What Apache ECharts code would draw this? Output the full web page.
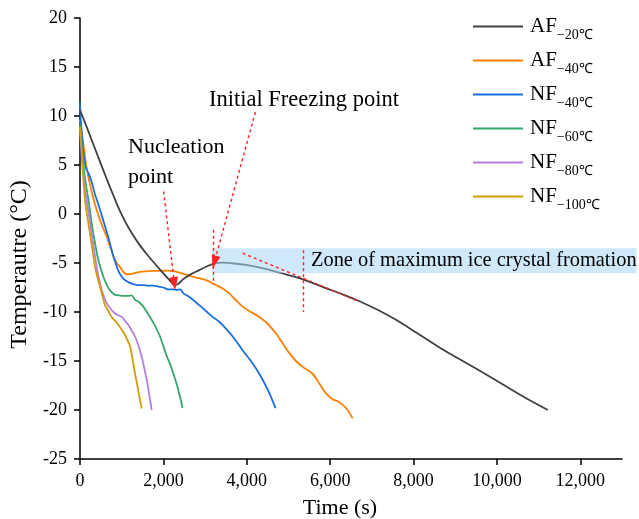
<!DOCTYPE html>
<html lang="en">
<head>
    <meta charset="UTF-8">
    <title>Temperature curves</title>
    <script src="https://cdn.jsdelivr.net/npm/echarts/dist/echarts.min.js"></script>
    <style>
        body { margin: 0; padding: 0; background: #fff; }
        #chart { width: 639px; height: 519px; }
    </style>
</head>
<body>
<div id="chart"></div>
<script>
    // series data: [time (s), temperature (°C)]
    const af20 = [[0,10.6],[150,9.0],[303,7.3],[470,5.45],[624,3.75],[790,2.0],[943,0.45],[1100,-0.9],[1263,-2.1],[1420,-3.1],[1584,-4.0],[1750,-4.85],[1903,-5.6],[2080,-6.45],[2200,-7.0],[2263,-7.25],[2350,-7.15],[2463,-6.7],[2580,-6.35],[2703,-6.05],[2850,-5.75],[3024,-5.38],[3223,-5.03],[3420,-4.97],[3700,-5.05],[3984,-5.2],[4350,-5.5],[4704,-5.9],[5050,-6.3],[5343,-6.67],[5650,-7.15],[5904,-7.58],[6300,-8.2],[6703,-8.9],[7100,-9.7],[7600,-10.85],[8064,-12.1],[8650,-13.7],[9264,-15.2],[9750,-16.4],[10224,-17.6],[10700,-18.8],[11222,-20.0]];
    const af40 = [[0,9.6],[60,7.8],[160,4.7],[280,2.3],[400,0.4],[480,-0.6],[560,-1.5],[640,-2.3],[720,-3.3],[800,-4.3],[880,-5.0],[960,-5.4],[1040,-5.9],[1120,-6.15],[1200,-6.15],[1280,-6.05],[1440,-5.9],[1600,-5.85],[1760,-5.8],[1920,-5.8],[2080,-5.78],[2200,-5.8],[2320,-5.9],[2480,-6.1],[2700,-6.4],[2860,-6.55],[3020,-6.75],[3260,-7.25],[3420,-7.6],[3580,-8.1],[3740,-8.8],[3900,-9.45],[4100,-10.0],[4300,-10.5],[4500,-11.2],[4700,-12.2],[4860,-13.2],[5020,-14.2],[5180,-15.0],[5340,-15.6],[5580,-16.3],[5740,-17.3],[5900,-18.3],[6060,-18.9],[6220,-19.2],[6380,-19.8],[6540,-20.85]];
    const nf40 = [[0,11.4],[15,9.8],[80,6.4],[140,4.7],[200,4.2],[280,3.3],[360,2.0],[440,1.0],[560,-0.7],[680,-2.4],[800,-4.3],[920,-5.8],[1040,-6.6],[1160,-6.95],[1240,-7.1],[1400,-7.25],[1520,-7.25],[1640,-7.3],[1760,-7.3],[1880,-7.4],[2000,-7.5],[2120,-7.7],[2240,-7.7],[2320,-7.75],[2400,-7.7],[2480,-8.1],[2600,-8.4],[2860,-9.3],[3020,-9.9],[3180,-10.5],[3340,-11.0],[3500,-11.7],[3700,-12.7],[3900,-13.9],[4100,-15.0],[4300,-16.3],[4500,-17.9],[4690,-19.8]];
    const nf60 = [[0,9.1],[60,6.0],[120,3.6],[200,1.5],[280,-0.9],[320,-2.0],[440,-4.7],[560,-6.4],[640,-7.2],[720,-7.8],[840,-8.25],[940,-8.3],[1040,-8.35],[1140,-8.35],[1240,-8.3],[1320,-8.75],[1420,-9.0],[1520,-9.45],[1620,-10.1],[1720,-10.8],[1820,-11.6],[1920,-12.5],[2000,-13.5],[2080,-14.5],[2160,-15.3],[2240,-16.3],[2300,-17.1],[2360,-18.0],[2420,-19.0],[2460,-19.8]];
    const nf80 = [[0,8.9],[40,6.0],[80,3.8],[120,2.4],[160,1.4],[220,-0.3],[280,-2.0],[340,-3.7],[400,-5.4],[460,-6.7],[520,-7.75],[580,-8.5],[640,-9.1],[720,-9.6],[800,-10.0],[900,-10.3],[1000,-10.5],[1080,-10.9],[1160,-11.3],[1240,-11.9],[1320,-12.5],[1400,-13.4],[1480,-14.6],[1540,-15.7],[1600,-16.9],[1660,-18.4],[1720,-20.0]];
    const nf100 = [[0,8.9],[40,6.5],[80,3.8],[120,1.4],[180,-0.4],[240,-2.0],[300,-3.7],[360,-5.4],[420,-6.5],[480,-7.4],[540,-8.4],[600,-9.3],[680,-9.9],[760,-10.5],[840,-10.9],[920,-11.3],[1000,-11.8],[1080,-12.35],[1140,-12.9],[1200,-13.5],[1260,-14.8],[1320,-16.3],[1380,-17.6],[1440,-19.0],[1480,-19.85]];

    const seriesBase = ["AF", "AF", "NF", "NF", "NF", "NF"];
    const seriesSub = ["−20℃", "−40℃", "−40℃", "−60℃", "−80℃", "−100℃"];
    const seriesData = [af20, af40, nf40, nf60, nf80, nf100];
    const seriesColors = ["#404040", "#ff8000", "#1a6fdf", "#37a86a", "#b57ee0", "#d29c0a"];

    const xTicks = [0, 2000, 4000, 6000, 8000, 10000, 12000];

    // annotation positions (data coords)
    const nucleationArrow = [[2006, 2.3], [2263, -7.1]];
    const freezingArrow = [[4207, 10.4], [3223, -4.9]];
    const freezingMarker = [[3199, -1.6], [3199, -7.2]];
    const zoneSlope = [[3902, -4.0], [6703, -8.95]];
    const zoneMarker = [[5366, -3.7], [5366, -10.0]];
    const zoneBand = [[3168, -3.5], [13350, -6.05]];

    const serif = "Liberation Serif";
    const chart = echarts.init(document.getElementById("chart"));

    const names = seriesBase.map((b, i) => b + seriesSub[i]);

    const lineSeries = seriesData.map((d, i) => ({
        name: names[i],
        type: "line",
        data: d,
        showSymbol: false,
        symbol: "none",
        smooth: 0.3,
        lineStyle: { color: seriesColors[i], width: 1.8 },
        itemStyle: { color: seriesColors[i] },
        z: 2 + (i === 0 ? 1 : 0)
    }));

    const dashed = { color: "#ff2020", width: 1.4, type: [3, 3] };
    const seg = (p, arrow) => [
        { coord: p[0], symbol: "none" },
        { coord: p[1], symbol: arrow ? "triangle" : "none", symbolSize: [9, 13] }
    ];

    lineSeries.push({
        name: "annot",
        type: "line",
        data: [],
        z: 6,
        markLine: {
            silent: true,
            symbol: ["none", "none"],
            label: { show: false },
            lineStyle: dashed,
            itemStyle: { color: "#ff0000" },
            animation: false,
            data: [
                seg(nucleationArrow, true),
                seg(freezingArrow, true),
                seg(freezingMarker, false),
                seg(zoneSlope, false),
                seg(zoneMarker, false)
            ]
        }
    });

    chart.setOption({
        animation: false,
        backgroundColor: "#fff",
        textStyle: { fontFamily: serif },
        grid: { left: 80, right: 17, top: 18, bottom: 60, containLabel: false, outerBoundsMode: "none" },
        legend: {
            data: names,
            orient: "vertical",
            left: 473,
            top: 16,
            padding: 0,
            icon: "rect",
            itemWidth: 50,
            itemHeight: 2,
            itemGap: 7.5,
            formatter: (name) => {
                const i = names.indexOf(name);
                return "{m|" + seriesBase[i] + "}{s|" + seriesSub[i] + "}";
            },
            textStyle: {
                rich: {
                    m: { fontFamily: serif, fontSize: 21, lineHeight: 32, color: "#000", padding: [0, 0, 0, 2] },
                    s: { fontFamily: serif, fontSize: 14, lineHeight: 14, color: "#000", verticalAlign: "bottom" }
                }
            }
        },
        xAxis: {
            type: "value",
            min: 0,
            max: 13000,
            interval: 2000,
            name: "Time (s)",
            nameLocation: "middle",
            nameGap: 38,
            nameTextStyle: { fontFamily: serif, fontSize: 22, color: "#000", padding: [0, 22, 0, 0] },
            splitLine: { show: false },
            axisLine: { onZero: false, lineStyle: { color: "#000", width: 1.5 } },
            axisTick: { length: 6, lineStyle: { color: "#000", width: 1.5 }, customValues: xTicks },
            axisLabel: { fontFamily: serif, fontSize: 18, color: "#000", margin: 13, customValues: xTicks }
        },
        yAxis: {
            type: "value",
            min: -25,
            max: 20,
            interval: 5,
            name: "Temperautre (°C)",
            nameLocation: "middle",
            nameGap: 45,
            nameTextStyle: { fontFamily: serif, fontSize: 24, color: "#000", padding: [0, 52, 0, 0] },
            splitLine: { show: false },
            axisLine: { show: true, onZero: false, lineStyle: { color: "#000", width: 1.5 } },
            axisTick: { show: true, length: 6, lineStyle: { color: "#000", width: 1.5 } },
            axisLabel: { fontFamily: serif, fontSize: 18, color: "#000", margin: 13 }
        },
        series: lineSeries
    });

    // band and text annotations, placed from data coords
    const p0 = chart.convertToPixel({ gridIndex: 0 }, zoneBand[0]);
    const p1 = chart.convertToPixel({ gridIndex: 0 }, zoneBand[1]);
    const txt = (x, y, s, size) => ({
        type: "text",
        left: x,
        top: y,
        z: 20,
        style: { text: s, fontFamily: serif, fontSize: size, fill: "#000" }
    });
    chart.setOption({
        graphic: [
            {
                type: "rect",
                z: 4,
                silent: true,
                shape: { x: p0[0], y: p0[1], width: p1[0] - p0[0], height: p1[1] - p0[1] },
                style: { fill: "rgba(170, 215, 245, 0.55)" }
            },
            txt(128, 136, "Nucleation", 22),
            txt(128, 166, "point", 22),
            txt(209, 89, "Initial Freezing point", 22.5),
            txt(311, 251, "Zone of maximum ice crystal fromation", 20.4)
        ]
    });
</script>
</body>
</html>
